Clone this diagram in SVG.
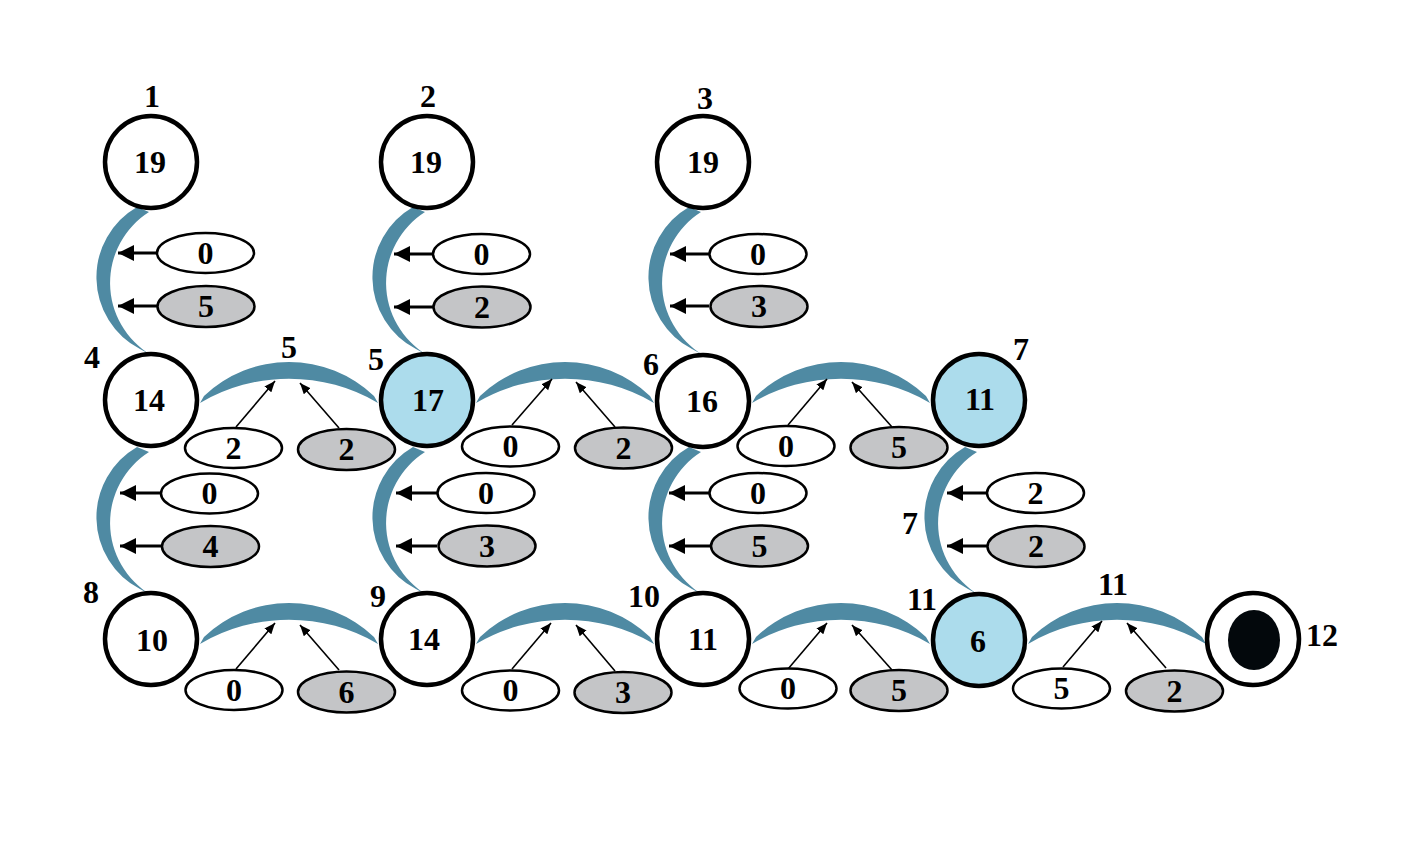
<svg xmlns="http://www.w3.org/2000/svg" xmlns:xlink="http://www.w3.org/1999/xlink" width="1420" height="866" viewBox="0 0 1420 866">
<style>
text{font-family:"Liberation Serif","Times New Roman",serif;font-weight:bold;font-size:32px;fill:#000;text-anchor:middle}
.node{fill:#fff;stroke:#000;stroke-width:4.5}
.blue{fill:#acdcec}
.arc{fill:#4f8aa3;stroke:none}
.ew{fill:#fff;stroke:#000;stroke-width:2.5}
.eg{fill:#c4c5c7;stroke:#000;stroke-width:2.5}
.big{stroke:#000;stroke-width:3;fill:none;marker-end:url(#mb)}
.thin{stroke:#000;stroke-width:1.6;fill:none;marker-end:url(#ms)}
</style>
<defs>
<marker id="mb" markerUnits="userSpaceOnUse" markerWidth="17" markerHeight="17" refX="16" refY="8" orient="auto"><path d="M0,0 L16,8 L0,16 z" fill="#000"/></marker>
<marker id="ms" markerUnits="userSpaceOnUse" markerWidth="12" markerHeight="10" refX="11" refY="4.5" orient="auto"><path d="M0,0 L11,4.5 L0,9 z" fill="#000"/></marker>
<path id="varc" d="M-14,45 A81,81 0 0 0 -11,187 L0,193 A84,84 0 0 1 -2,50 Z"/>
<path id="harc" d="M53,-4 A123.3,123.3 0 0 1 223,-4 L227,3 A175,175 0 0 0 49,3 Z"/>
</defs>
<rect width="1420" height="866" fill="#fff"/>
<g id="connectors">
<use xlink:href="#varc" class="arc" transform="translate(151,162)"/>
<use xlink:href="#varc" class="arc" transform="translate(427,162)"/>
<use xlink:href="#varc" class="arc" transform="translate(703,162)"/>
<use xlink:href="#varc" class="arc" transform="translate(151,402)"/>
<use xlink:href="#varc" class="arc" transform="translate(427,402)"/>
<use xlink:href="#varc" class="arc" transform="translate(703,402)"/>
<use xlink:href="#varc" class="arc" transform="translate(979,402)"/>
<use xlink:href="#harc" class="arc" transform="translate(151,400)"/>
<use xlink:href="#harc" class="arc" transform="translate(427,400)"/>
<use xlink:href="#harc" class="arc" transform="translate(703,400)"/>
<use xlink:href="#harc" class="arc" transform="translate(151,641)"/>
<use xlink:href="#harc" class="arc" transform="translate(427,641)"/>
<use xlink:href="#harc" class="arc" transform="translate(703,641)"/>
<use xlink:href="#harc" class="arc" transform="translate(979,641)"/>
<line class="big" x1="157" y1="253" x2="118" y2="253"/>
<line class="big" x1="157" y1="306" x2="118" y2="306"/>
<line class="big" x1="433" y1="254" x2="394" y2="254"/>
<line class="big" x1="433" y1="307" x2="394" y2="307"/>
<line class="big" x1="709" y1="254" x2="670" y2="254"/>
<line class="big" x1="709" y1="306" x2="670" y2="306"/>
<line class="big" x1="161" y1="493" x2="120" y2="493"/>
<line class="big" x1="162" y1="546" x2="120" y2="546"/>
<line class="big" x1="437" y1="493" x2="396" y2="493"/>
<line class="big" x1="437" y1="546" x2="396" y2="546"/>
<line class="big" x1="710" y1="493" x2="669" y2="493"/>
<line class="big" x1="711" y1="546" x2="669" y2="546"/>
<line class="big" x1="987" y1="493" x2="947" y2="493"/>
<line class="big" x1="987" y1="546" x2="947" y2="546"/>
<line class="thin" x1="236" y1="427" x2="275" y2="381"/>
<line class="thin" x1="339" y1="428" x2="300" y2="383"/>
<line class="thin" x1="512" y1="425" x2="552" y2="379"/>
<line class="thin" x1="615" y1="427" x2="576" y2="382"/>
<line class="thin" x1="788" y1="425" x2="827" y2="379"/>
<line class="thin" x1="892" y1="427" x2="852" y2="382"/>
<line class="thin" x1="236" y1="669" x2="275" y2="623"/>
<line class="thin" x1="339" y1="670" x2="300" y2="625"/>
<line class="thin" x1="512" y1="669" x2="551" y2="623"/>
<line class="thin" x1="615" y1="671" x2="576" y2="625"/>
<line class="thin" x1="788" y1="669" x2="827" y2="623"/>
<line class="thin" x1="892" y1="670" x2="852" y2="625"/>
<line class="thin" x1="1063" y1="667" x2="1102" y2="621"/>
<line class="thin" x1="1166" y1="668" x2="1127" y2="623"/>
<ellipse class="ew" cx="205.5" cy="253" rx="48.5" ry="20"/><text x="205.5" y="264">0</text>
<ellipse class="eg" cx="206" cy="306.5" rx="48.5" ry="20.5"/><text x="206" y="317">5</text>
<ellipse class="ew" cx="481.5" cy="254" rx="48.5" ry="20"/><text x="481.5" y="265">0</text>
<ellipse class="eg" cx="482" cy="307" rx="48.5" ry="20.5"/><text x="482" y="318">2</text>
<ellipse class="ew" cx="758" cy="254" rx="48.5" ry="20"/><text x="758" y="265">0</text>
<ellipse class="eg" cx="759" cy="306.5" rx="48.5" ry="20.5"/><text x="759" y="317">3</text>
<ellipse class="ew" cx="209.5" cy="493.5" rx="48.5" ry="20"/><text x="209.5" y="504">0</text>
<ellipse class="eg" cx="210.5" cy="546.5" rx="48.5" ry="20.5"/><text x="210.5" y="557">4</text>
<ellipse class="ew" cx="486" cy="493" rx="48.5" ry="20"/><text x="486" y="504">0</text>
<ellipse class="eg" cx="487" cy="546" rx="48.5" ry="20.5"/><text x="487" y="557">3</text>
<ellipse class="ew" cx="758" cy="493" rx="48.5" ry="20"/><text x="758" y="504">0</text>
<ellipse class="eg" cx="759.5" cy="546" rx="48.5" ry="20.5"/><text x="759.5" y="557">5</text>
<ellipse class="ew" cx="1035.5" cy="493" rx="48.5" ry="20"/><text x="1035.5" y="504">2</text>
<ellipse class="eg" cx="1036" cy="546.5" rx="48.5" ry="20.5"/><text x="1036" y="557">2</text>
<ellipse class="ew" cx="233.5" cy="448" rx="48.5" ry="20"/><text x="233.5" y="459">2</text>
<ellipse class="eg" cx="346.5" cy="449.5" rx="48.5" ry="20.5"/><text x="346.5" y="460">2</text>
<ellipse class="ew" cx="510.5" cy="446.5" rx="48.5" ry="20"/><text x="510.5" y="457">0</text>
<ellipse class="eg" cx="623.5" cy="448" rx="48.5" ry="20.5"/><text x="623.5" y="459">2</text>
<ellipse class="ew" cx="786" cy="446" rx="48.5" ry="20"/><text x="786" y="457">0</text>
<ellipse class="eg" cx="899" cy="447.5" rx="48.5" ry="20.5"/><text x="899" y="458">5</text>
<ellipse class="ew" cx="234" cy="690" rx="48.5" ry="20"/><text x="234" y="701">0</text>
<ellipse class="eg" cx="346.5" cy="692" rx="48.5" ry="20.5"/><text x="346.5" y="703">6</text>
<ellipse class="ew" cx="510.5" cy="690.5" rx="48.5" ry="20"/><text x="510.5" y="701">0</text>
<ellipse class="eg" cx="623" cy="692.5" rx="48.5" ry="20.5"/><text x="623" y="703">3</text>
<ellipse class="ew" cx="788" cy="688.5" rx="48.5" ry="20"/><text x="788" y="699">0</text>
<ellipse class="eg" cx="899" cy="690.5" rx="48.5" ry="20.5"/><text x="899" y="701">5</text>
<ellipse class="ew" cx="1061.5" cy="688.5" rx="48.5" ry="20"/><text x="1061.5" y="699">5</text>
<ellipse class="eg" cx="1174.5" cy="691" rx="48.5" ry="20.5"/><text x="1174.5" y="702">2</text>
<text x="289" y="358">5</text>
<text x="910" y="534">7</text>
<text x="1113" y="595">11</text>
</g>
<g id="n1"><circle class="node" cx="151" cy="162" r="46"/><text x="150" y="173">19</text><text x="152" y="107">1</text></g>
<g id="n2"><circle class="node" cx="427" cy="162" r="46"/><text x="426" y="173">19</text><text x="428" y="107">2</text></g>
<g id="n3"><circle class="node" cx="703" cy="162" r="46"/><text x="703" y="173">19</text><text x="705" y="109">3</text></g>
<g id="n4"><circle class="node" cx="151" cy="400" r="46"/><text x="149" y="411">14</text><text x="92" y="368">4</text></g>
<g id="n5"><circle class="node blue" cx="427" cy="400" r="46"/><text x="428" y="411">17</text><text x="376" y="370">5</text></g>
<g id="n6"><circle class="node" cx="703" cy="401" r="46"/><text x="702" y="412">16</text><text x="651" y="375">6</text></g>
<g id="n7"><circle class="node blue" cx="979" cy="400" r="46"/><text x="980" y="410">11</text><text x="1021" y="360">7</text></g>
<g id="n8"><circle class="node" cx="151" cy="639" r="46"/><text x="152" y="651">10</text><text x="91" y="603">8</text></g>
<g id="n9"><circle class="node" cx="427" cy="639" r="46"/><text x="424" y="650">14</text><text x="378" y="607">9</text></g>
<g id="n10"><circle class="node" cx="703" cy="639" r="46"/><text x="703" y="650">11</text><text x="644" y="607">10</text></g>
<g id="n11"><circle class="node blue" cx="979" cy="640" r="46"/><text x="978" y="652">6</text><text x="922" y="610">11</text></g>
<g id="n12"><circle class="node" cx="1253" cy="639" r="46"/><ellipse cx="1254" cy="640" rx="26" ry="30" fill="#03080c"/><text x="1322" y="646">12</text></g>
</svg>
